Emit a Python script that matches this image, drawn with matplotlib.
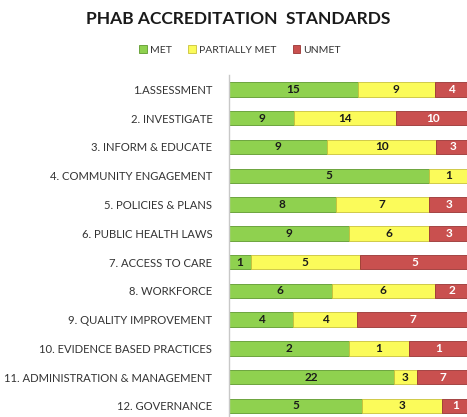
import numpy as np
import matplotlib.pyplot as plt

CATEGORIES = [
    "1.ASSESSMENT",
    "2. INVESTIGATE",
    "3. INFORM & EDUCATE",
    "4. COMMUNITY ENGAGEMENT",
    "5. POLICIES & PLANS",
    "6. PUBLIC HEALTH LAWS",
    "7. ACCESS TO CARE",
    "8. WORKFORCE",
    "9. QUALITY IMPROVEMENT",
    "10. EVIDENCE BASED PRACTICES",
    "11. ADMINISTRATION & MANAGEMENT",
    "12. GOVERNANCE",
]
MET = [15, 9, 9, 5, 8, 9, 1, 6, 4, 2, 22, 5]
PARTIALLY_MET = [9, 14, 10, 1, 7, 6, 5, 6, 4, 1, 3, 3]
UNMET = [4, 10, 3, 0, 3, 3, 5, 2, 7, 1, 7, 1]

SERIES = [
    ("MET", MET, "#8fd14f", "#5f9a2e", "#1a1a1a"),
    ("PARTIALLY MET", PARTIALLY_MET, "#fbfb5a", "#c9c23a", "#1a1a1a"),
    ("UNMET", UNMET, "#c9504f", "#9a3534", "white"),
]

plt.rcParams["font.family"] = ["Lato", "DejaVu Sans"]

fig = plt.figure(figsize=(4.67, 4.17), dpi=100)
ax = fig.add_axes([229 / 467, -0.008, 240 / 467, 0.828])

totals = np.array(MET) + np.array(PARTIALLY_MET) + np.array(UNMET)
y = np.arange(len(CATEGORIES))
left = np.zeros(len(CATEGORIES))

for name, vals, color, edge, tcolor in SERIES:
    share = np.array(vals) / totals
    ax.barh(y, share, left=left, height=0.5, color=color, edgecolor=edge,
            linewidth=0.6, label=name)
    for i, (v, s) in enumerate(zip(vals, share)):
        if v > 0:
            ax.text(left[i] + s / 2, y[i], str(v), ha="center", va="center",
                    fontsize=8.5, fontweight="bold", color=tcolor)
    left += share

ax.set_xlim(0, 1)
ax.set_ylim(len(CATEGORIES) - 0.5, -0.5)
ax.set_yticks(y)
ax.set_yticklabels(CATEGORIES, fontsize=8.1, color="#333333")
ax.tick_params(axis="y", length=0, pad=12)
ax.set_xticks([])
for side in ["top", "right", "bottom"]:
    ax.spines[side].set_visible(False)
ax.spines["left"].set_color("#c8c8c8")
ax.spines["left"].set_linewidth(1.0)

fig.text(238 / 467, 1 - 19 / 417, "PHAB ACCREDITATION  STANDARDS", ha="center",
         va="center", fontsize=12.5, fontweight="bold", color="#1a1a1a")

handles, labels = ax.get_legend_handles_labels()
fig.legend(handles, labels, loc="center", bbox_to_anchor=(240 / 467, 1 - 50 / 417),
           ncol=3, frameon=False, fontsize=7.5, handlelength=0.7, handleheight=0.7,
           handletextpad=0.3, columnspacing=1.6, labelcolor="#333333")

fig.savefig("out.png", dpi=100)
